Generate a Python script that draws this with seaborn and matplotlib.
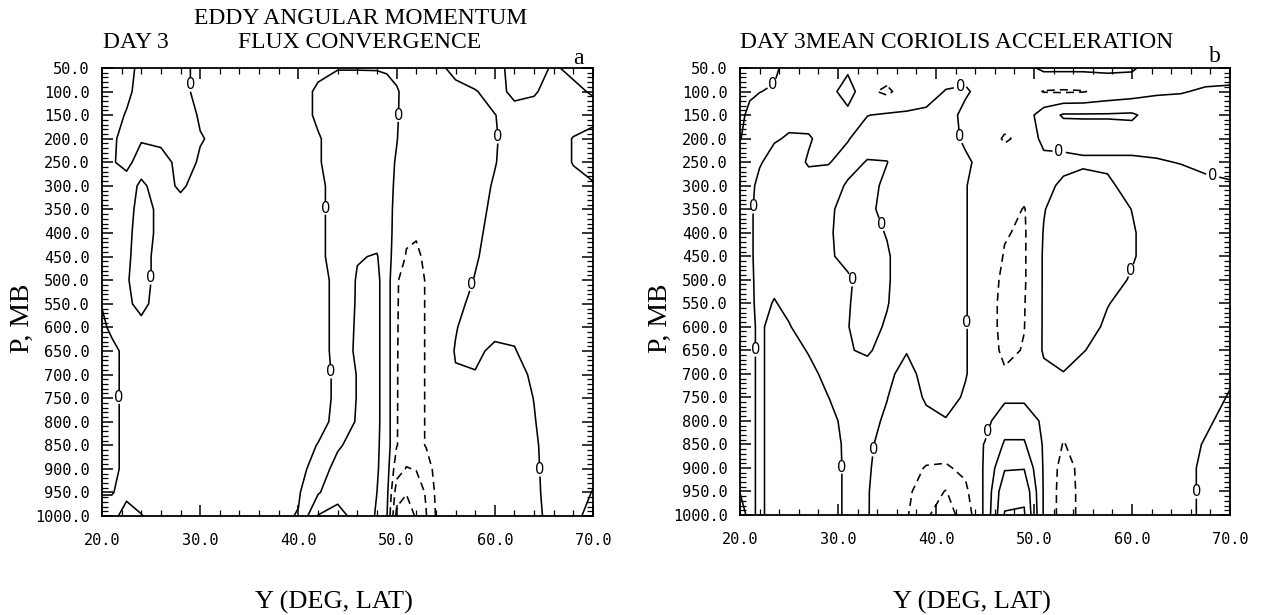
import numpy as np
import pandas as pd
import matplotlib
matplotlib.use("Agg")
import matplotlib.pyplot as plt
from matplotlib.ticker import MultipleLocator, FormatStrFormatter
import seaborn as sns

# ---------------- data ----------------
pressure_mb = [50, 100, 150, 200, 250, 300, 350, 400, 450, 500,
               550, 600, 650, 700, 750, 800, 850, 900, 950, 1000]

# panel a: eddy angular momentum flux convergence, one profile (50..1000 mb) per latitude
lat_a = [20, 21, 22.5, 24, 26, 28, 30, 35, 40, 42, 44, 46, 48, 49, 50, 51, 52, 53, 54,
         56, 58, 60, 62, 64, 66, 68, 70]
eddy_conv = [
    [-0.5,-0.5,-0.5,-0.5,-0.5,-0.5,-0.5,-0.5,-0.5,-0.5,-0.1,0.4,0.5,0.5,0.5,0.5,0.5,0.5,0.05,-0.4],
    [-0.5,-0.5,-0.5,-0.2,-0.1,-0.5,-0.5,-0.5,-0.5,-0.5,-0.5,-0.4,0.5,0.5,0.5,0.5,0.5,0.5,0.05,-0.4],
    [-0.5,-0.3,0.1,0.4,0.3,-0.5,-0.5,-0.3,-0.2,-0.1,-0.2,-0.5,-0.5,-0.5,-0.5,-0.5,-0.5,-0.5,-0.3,0.5],
    [0.4,0.5,0.5,0.1,-0.5,0.2,0.5,0.5,0.5,0.5,0.3,-0.3,-0.5,-0.5,-0.5,-0.5,-0.5,-0.5,-0.5,0.05],
    [0.5,0.5,0.5,0.3,-0.5,-0.5,-0.3,-0.3,-0.5,-0.5,-0.5,-0.5,-0.5,-0.5,-0.5,-0.5,-0.5,-0.5,-0.5,-0.5],
    [0.5,0.5,0.5,0.5,0.4,0.2,-0.5,-0.5,-0.5,-0.5,-0.5,-0.5,-0.5,-0.5,-0.5,-0.5,-0.5,-0.5,-0.5,-0.5],
    [-0.5,-0.5,-0.1,0.05,-0.1,-0.5,-0.5,-0.5,-0.5,-0.5,-0.5,-0.5,-0.5,-0.5,-0.5,-0.5,-0.5,-0.5,-0.5,-0.5],
    [-0.5,-0.5,-0.5,-0.5,-0.5,-0.5,-0.5,-0.5,-0.5,-0.5,-0.5,-0.5,-0.5,-0.5,-0.5,-0.5,-0.5,-0.5,-0.5,-0.5],
    [-0.5,-0.5,-0.5,-0.5,-0.5,-0.5,-0.5,-0.5,-0.5,-0.5,-0.5,-0.5,-0.5,-0.5,-0.5,-0.5,-0.5,-0.3,-0.1,0.05],
    [-0.3,0.2,0.2,-0.1,-0.1,-0.3,-0.3,-0.3,-0.3,-0.4,-0.4,-0.4,-0.4,-0.4,-0.4,-0.4,0.05,0.4,0.9,2.05],
    [-0.05,0.5,0.5,0.5,0.5,0.5,0.5,0.5,0.5,0.3,0.3,0.3,0.3,0.2,0.2,0.33,0.85,1.4,1.7,2.3],
    [-0.05,0.5,0.6,0.6,0.6,0.6,0.6,0.7,0.95,1.08,1.1,1.15,1.2,1.05,1.05,1.1,1.45,1.6,1.6,1.7],
    [-0.05,0.4,0.5,0.5,0.5,0.5,0.6,0.7,1.05,1.2,1.2,1.2,1.2,1.2,1.2,1.2,1.15,1.1,1.0,0.9],
    [-0.1,0.3,0.4,0.4,0.4,0.4,0.4,0.45,0.5,0.5,0.5,0.5,0.5,0.5,0.5,0.5,0.5,0.45,0.3,0.1],
    [-0.3,0.1,0.1,0.05,-0.1,-0.2,-0.3,-0.4,-0.6,-0.95,-0.95,-0.95,-0.95,-0.95,-0.95,-0.95,-0.95,-1.6,-2.5,-3.3],
    [-0.3,-0.3,-0.4,-0.5,-0.6,-0.7,-0.8,-0.9,-1.05,-1.2,-1.25,-1.3,-1.35,-1.4,-1.4,-1.45,-1.5,-2.05,-2.95,-3.5],
    [-0.3,-0.4,-0.5,-0.6,-0.7,-0.8,-0.85,-0.95,-1.1,-1.3,-1.3,-1.3,-1.3,-1.3,-1.3,-1.3,-1.3,-1.95,-2.6,-2.9],
    [-0.3,-0.4,-0.5,-0.5,-0.6,-0.6,-0.7,-0.8,-0.9,-0.95,-0.95,-0.95,-0.95,-0.95,-0.95,-0.95,-0.95,-1.5,-1.9,-2.05],
    [-0.3,-0.5,-0.5,-0.5,-0.5,-0.5,-0.5,-0.5,-0.6,-0.6,-0.6,-0.6,-0.6,-0.6,-0.6,-0.65,-0.65,-0.7,-0.85,-0.95],
    [0.3,-0.3,-0.5,-0.5,-0.5,-0.5,-0.5,-0.5,-0.5,-0.5,-0.25,-0.05,0.05,-0.05,-0.5,-0.5,-0.5,-0.5,-0.5,-0.5],
    [0.5,-0.05,-0.3,-0.4,-0.4,-0.4,-0.3,-0.2,-0.1,0.05,0.25,0.4,0.2,-0.05,-0.5,-0.5,-0.5,-0.5,-0.5,-0.5],
    [0.3,0.3,-0.02,-0.1,-0.05,0.1,0.2,0.3,0.4,0.5,0.5,0.3,-0.2,-0.5,-0.5,-0.5,-0.5,-0.5,-0.5,-0.5],
    [-0.3,-0.2,0.3,0.5,0.5,0.5,0.5,0.5,0.5,0.5,0.5,0.2,-0.05,-0.3,-0.4,-0.5,-0.5,-0.5,-0.5,-0.5],
    [-0.3,-0.1,0.4,0.5,0.5,0.5,0.5,0.5,0.5,0.5,0.5,0.5,0.4,0.15,0.02,-0.05,-0.15,-0.2,-0.25,-0.3],
    [0.1,0.4,0.5,0.5,0.5,0.5,0.5,0.5,0.5,0.5,0.5,0.5,0.5,0.5,0.5,0.5,0.5,0.5,0.5,0.4],
    [-0.2,0.2,0.5,-0.05,-0.05,0.3,0.5,0.5,0.5,0.5,0.5,0.5,0.5,0.5,0.5,0.5,0.5,0.5,0.5,0.3],
    [-0.4,-0.1,0.4,-0.4,-0.4,0.1,0.5,0.5,0.5,0.5,0.5,0.5,0.5,0.5,0.5,0.5,0.5,0.3,-0.05,-0.4],
]

# panel b: mean Coriolis acceleration
lat_b = [20, 21, 22, 23.5, 25, 27, 29, 31, 33, 35, 37, 39, 41, 43, 45, 47, 49, 51, 53, 55,
         57.5, 60, 62.5, 65, 67.5, 70]
coriolis = [
    [0.4,0.4,0.3,0.05,-0.4,-0.4,-0.4,-0.4,-0.4,-0.4,-0.4,-0.4,-0.4,-0.4,-0.4,-0.4,-0.4,-0.4,-0.02,0.3],
    [0.4,0.2,-0.3,-0.4,-0.4,-0.3,-0.2,-0.2,-0.2,-0.2,-0.2,-0.2,-0.2,-0.2,-0.2,-0.2,-0.2,-0.2,-0.2,-0.2],
    [0.3,0.02,-0.4,-0.4,-0.1,0.3,0.4,0.4,0.4,0.3,0.25,0.15,0.15,0.15,0.15,0.15,0.15,0.15,0.15,0.15],
    [0.2,-0.1,-0.4,-0.1,0.4,0.5,0.5,0.5,0.4,0.2,-0.05,-0.3,-0.3,-0.3,-0.3,-0.3,-0.3,-0.3,-0.3,-0.3],
    [-0.4,-0.4,-0.3,0.1,0.5,0.5,0.5,0.5,0.5,0.4,0.2,-0.05,-0.3,-0.3,-0.3,-0.3,-0.3,-0.3,-0.3,-0.3],
    [-0.4,-0.4,-0.4,0.1,-0.1,0.4,0.5,0.5,0.5,0.5,0.5,0.4,0.05,-0.2,-0.3,-0.3,-0.3,-0.3,-0.3,-0.3],
    [-0.4,-0.4,-0.4,-0.4,-0.05,0.4,0.15,0.1,0.1,0.3,0.5,0.5,0.4,0.2,-0.01,-0.2,-0.3,-0.3,-0.3,-0.3],
    [-0.2,0.5,-0.3,-0.05,0.3,-0.1,-0.3,-0.3,-0.2,0.1,0.05,0.02,0.05,0.1,0.3,0.2,0.15,0.13,0.13,0.13],
    [-0.4,-0.8,-0.02,0.4,-0.05,-0.3,-0.3,-0.3,-0.3,-0.3,-0.3,-0.3,-0.1,0.3,0.3,0.2,0.15,0.1,0.05,0.05],
    [-0.4,-1.2,0.1,0.4,-0.02,0.2,0.4,0.05,-0.1,-0.1,-0.05,0.1,0.3,0.2,0.02,-0.1,-0.3,-0.4,-0.45,-0.5],
    [-0.5,-0.5,0.1,0.5,0.5,0.5,0.5,0.5,0.5,0.5,0.5,0.4,0.05,-0.3,-0.4,-0.5,-0.6,-0.7,-0.8,-0.9],
    [-0.5,-0.4,0.2,0.5,0.5,0.5,0.5,0.5,0.5,0.5,0.5,0.5,0.5,0.3,0.1,-0.2,-0.6,-1.05,-1.5,-1.9],
    [-0.5,0.05,0.3,0.5,0.5,0.5,0.5,0.5,0.5,0.5,0.5,0.5,0.5,0.5,0.3,-0.05,-0.6,-1.1,-2.05,-2.4],
    [-0.3,0.1,-0.2,-0.2,0.2,0.05,0.05,0.05,0.05,0.05,0.05,0.05,0.05,0.05,-0.1,-0.4,-0.6,-0.8,-1.2,-1.6],
    [-0.4,-0.3,-0.5,-0.5,-0.4,-0.5,-0.5,-0.5,-0.5,-0.5,-0.5,-0.5,-0.5,-0.5,-0.5,-0.3,0.05,0.1,0.15,0.2],
    [-0.4,-0.4,-0.6,-1.1,-0.6,-0.5,-0.6,-0.95,-1.05,-1.2,-1.3,-1.3,-1.2,-0.9,-0.2,0.6,1.1,1.9,2.75,3.05],
    [-0.3,-0.5,-0.5,-0.8,-0.6,-0.6,-1.05,-1.1,-1.1,-1.1,-1.05,-1.02,-0.95,-0.7,-0.2,0.6,1.1,1.95,2.8,3.1],
    [0.2,-1.05,0.5,0.3,-0.3,-0.3,-0.05,0.05,0.1,0.1,0.1,0.1,0.1,-0.2,-0.5,-0.2,-0.1,-0.1,-0.1,-0.1],
    [0.2,-1.1,1.1,0.4,-0.3,0.2,0.5,0.5,0.5,0.5,0.5,0.5,0.5,-0.05,-0.5,-0.7,-1.05,-1.4,-1.5,-1.5],
    [0.2,-1.05,1.1,0.5,-0.2,0.5,0.5,0.5,0.5,0.5,0.5,0.5,0.05,-0.4,-0.5,-0.6,-0.6,-0.7,-0.7,-0.7],
    [0.2,-0.7,1.1,0.5,-0.2,0.2,0.5,0.5,0.5,0.4,0.05,-0.2,-0.4,-0.5,-0.5,-0.5,-0.5,-0.5,-0.5,-0.5],
    [0.1,-0.5,1.15,0.5,-0.2,-0.4,-0.02,0.1,0.1,-0.1,-0.4,-0.5,-0.5,-0.5,-0.5,-0.5,-0.5,-0.5,-0.5,-0.5],
    [-0.4,-0.1,0.5,0.5,-0.1,-0.5,-0.5,-0.5,-0.5,-0.5,-0.5,-0.5,-0.5,-0.5,-0.5,-0.5,-0.5,-0.5,-0.5,-0.5],
    [-0.4,-0.05,0.5,0.4,0.05,-0.5,-0.5,-0.5,-0.5,-0.5,-0.5,-0.5,-0.5,-0.5,-0.5,-0.5,-0.5,-0.5,-0.5,-0.5],
    [-0.4,0.1,0.5,0.5,0.2,-0.2,-0.5,-0.5,-0.5,-0.5,-0.5,-0.5,-0.5,-0.5,-0.5,-0.2,0.1,0.3,0.3,0.3],
    [-0.4,0.15,0.5,0.5,0.3,-0.1,-0.5,-0.5,-0.5,-0.5,-0.5,-0.5,-0.5,-0.2,0.1,0.4,0.4,0.4,0.4,0.4],
]

nonzero_levels = [-3, -2, -1, 1, 2, 3]
zero_level = [0]

# where the "0" labels sit (lat, mb)
zero_labels_a = [(29.1, 86), (50.1, 150), (42.7, 347), (24.6, 495), (43.4, 694),
                 (21.9, 748), (60.3, 196), (57.8, 510), (64.6, 902)]
zero_labels_b = [(23.6, 92), (21.3, 345), (21.4, 649), (42.4, 80), (42.1, 197),
                 (32.9, 394), (32.2, 494), (30.4, 898), (33.9, 862), (43.0, 590),
                 (44.8, 820), (52.6, 220), (68.3, 273), (59.8, 479), (66.7, 951)]

# ---------------- style ----------------
sns.set_theme(style="ticks")
plt.rcParams.update({
    "font.family": ["DejaVu Sans"],
    "text.color": "black",
    "lines.dashed_pattern": [5.0, 3.2],
    "contour.negative_linestyle": "dashed",
    "axes.linewidth": 1.3,
    "axes.edgecolor": "black",
    "xtick.color": "black",
    "ytick.color": "black",
})

W, H = 1263, 615
fig = plt.figure(figsize=(W / 100, H / 100), dpi=100)
fig.patch.set_facecolor("white")
ax_a = fig.add_axes([102 / W, 1 - 516 / H, 491 / W, 448 / H])
ax_b = fig.add_axes([740 / W, 1 - 515 / H, 490 / W, 447 / H])


def draw(ax, lats, grid, label_pts):
    df = pd.DataFrame(np.array(grid).T, index=pressure_mb, columns=lats)
    x, y, z = df.columns.values, df.index.values, df.values
    ax.contour(x, y, z, levels=nonzero_levels, colors="black", linewidths=1.15)
    cz = ax.contour(x, y, z, levels=zero_level, colors="black", linewidths=1.15)
    texts = ax.clabel(cz, fmt={0: "0"}, fontsize=10.5, inline=True,
                      inline_spacing=2, manual=label_pts, colors="black")
    for t in texts:
        t.set_rotation(0)
    ax.set_xlim(20, 70)
    ax.set_ylim(1000, 50)
    ax.xaxis.set_major_locator(MultipleLocator(10))
    ax.xaxis.set_minor_locator(MultipleLocator(2))
    ax.yaxis.set_major_locator(MultipleLocator(50))
    ax.yaxis.set_minor_locator(MultipleLocator(10))
    ax.xaxis.set_major_formatter(FormatStrFormatter("%.1f"))
    ax.yaxis.set_major_formatter(FormatStrFormatter("%.1f"))
    ax.tick_params(which="both", direction="in", top=True, right=True,
                   bottom=True, left=True, color="black")
    ax.tick_params(which="major", length=8, width=1.1, labelsize=11,
                   labelcolor="black", labelfontfamily="DejaVu Sans Mono")
    ax.tick_params(which="minor", length=4.5, width=0.9)
    ax.tick_params(axis="x", which="major", pad=12)
    ax.tick_params(axis="y", which="major", pad=9)
    ax.set_xlabel("")
    ax.set_ylabel("")
    for s in ax.spines.values():
        s.set_visible(True)
        s.set_linewidth(1.3)
        s.set_color("black")


draw(ax_a, lat_a, eddy_conv, zero_labels_a)
draw(ax_b, lat_b, coriolis, zero_labels_b)

serif = ["Liberation Serif", "DejaVu Serif"]
txt = dict(color="black", family=serif)
fig.text(361 / W, 1 - 18 / H, "EDDY ANGULAR MOMENTUM", ha="center", va="center",
         fontsize=17, **txt)
fig.text(360 / W, 1 - 43 / H, "FLUX CONVERGENCE", ha="center", va="center",
         fontsize=17, **txt)
fig.text(103 / W, 1 - 43 / H, "DAY 3", ha="left", va="center", fontsize=17, **txt)
fig.text(578 / W, 1 - 58 / H, "a", ha="center", va="center", fontsize=17, **txt)
fig.text(740 / W, 1 - 43 / H, "DAY 3MEAN CORIOLIS ACCELERATION", ha="left", va="center",
         fontsize=17, **txt)
fig.text(1215 / W, 1 - 56 / H, "b", ha="center", va="center", fontsize=17, **txt)

for xc in (22, 660):
    fig.text(xc / W, 1 - 318 / H, "P, MB", rotation=90, ha="center", va="center",
             fontsize=20, **txt)
for xc in (334, 972):
    fig.text(xc / W, 1 - 602 / H, "Y (DEG, LAT)", ha="center", va="center",
             fontsize=19, **txt)

fig.savefig("out.png", dpi=100, facecolor="white")
